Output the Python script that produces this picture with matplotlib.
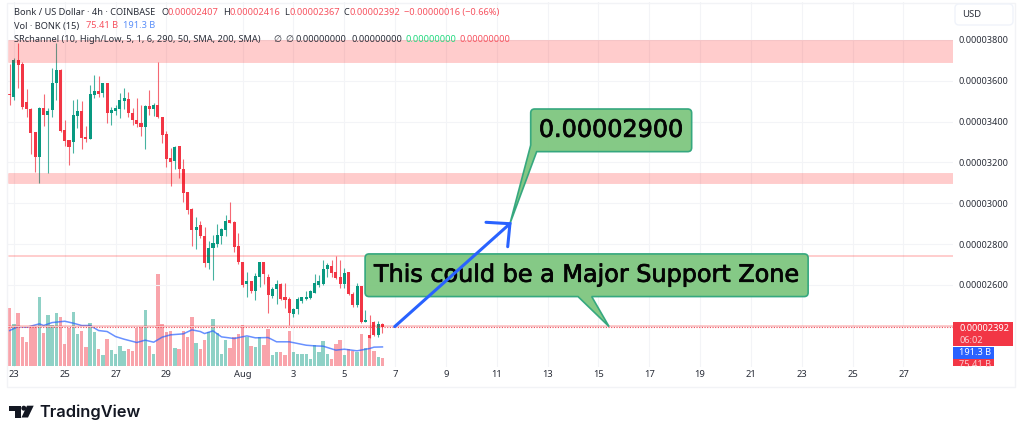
import matplotlib
matplotlib.use("Agg")
import matplotlib.pyplot as plt
import matplotlib.patheffects as pe
import numpy as np
from matplotlib.path import Path
from matplotlib.patches import PathPatch, Rectangle, FancyBboxPatch, Polygon, Circle

# ---------- data (prices in units of 1e-8 USD, volume in billions) ----------
PRICE_UNIT = 1e-8
opens = [3533,3522,3702,3682,3495,3460,3348,3225,3465,3433,
         3457,3588,3653,3359,3310,3302,3428,3452,3326,3315,
         3530,3552,3539,3588,3441,3452,3462,3503,3511,3444,
         3408,3392,3375,3477,3460,3482,3421,3339,3220,3207,
         3281,3168,3054,2972,2869,2894,2840,2709,2779,2800,
         2840,2869,2918,2910,2791,2712,2604,2619,2572,2640,
         2711,2640,2546,2578,2604,2539,2529,2457,2480,2523,
         2533,2534,2562,2600,2604,2676,2693,2662,2637,2604,
         2662,2555,2502,2595,2420,2355,2420,2355,2407]
highs = [3680,3710,3785,3690,3558,3465,3350,3470,3534,3465,
         3661,3785,3656,3408,3310,3506,3509,3501,3379,3580,
         3628,3624,3590,3591,3470,3482,3539,3563,3547,3465,
         3514,3482,3482,3555,3493,3694,3421,3356,3269,3281,
         3281,3217,3057,2975,2931,2913,2885,2817,2845,2898,
         2877,2943,3005,2913,2856,2712,2663,2619,2657,2714,
         2712,2654,2591,2624,2608,2608,2542,2485,2539,2542,
         2572,2575,2653,2649,2722,2709,2722,2742,2722,2681,
         2662,2567,2608,2595,2477,2453,2423,2423,2416]
lows = [3482,3506,3565,3460,3421,3241,3155,3098,3379,3147,
        3421,3506,3350,3281,3188,3248,3367,3266,3302,3315,
        3514,3519,3519,3395,3385,3433,3416,3460,3421,3384,
        3375,3330,3264,3433,3428,3416,3297,3176,3085,3166,
        3122,3008,2947,2791,2774,2828,2686,2680,2624,2784,
        2800,2840,2905,2763,2702,2591,2539,2559,2526,2591,
        2605,2464,2534,2507,2524,2485,2404,2444,2457,2510,
        2526,2529,2559,2591,2600,2640,2640,2627,2583,2583,
        2550,2493,2493,2412,2420,2338,2350,2346,2367]
closes = [3530,3702,3678,3473,3460,3346,3225,3465,3433,3454,
          3588,3653,3356,3307,3274,3432,3452,3322,3313,3534,
          3552,3535,3588,3441,3457,3465,3506,3514,3441,3408,
          3388,3372,3478,3460,3482,3421,3335,3217,3204,3277,
          3166,3049,2967,2869,2885,2840,2709,2779,2804,2845,
          2874,2913,2905,2784,2714,2600,2619,2572,2644,2711,
          2654,2551,2580,2604,2529,2526,2461,2480,2529,2539,
          2539,2572,2608,2621,2678,2698,2657,2632,2604,2660,
          2555,2502,2595,2420,2428,2338,2355,2407,2392]
volumes = [590,429,539,292,240,401,401,703,333,521,
           418,545,504,223,384,552,326,357,189,436,
           346,175,110,274,158,123,199,151,172,154,
           391,412,569,206,117,940,429,340,357,178,
           175,357,295,497,230,168,261,340,484,336,
           117,261,185,295,329,415,295,202,192,295,
           209,381,106,134,137,113,353,141,120,123,
           123,72,209,141,250,123,72,220,261,106,
           175,151,141,329,182,319,151,89,75.41]
ma_index = [0,2,4,7,8,10,13,15,17,19,21,23,25,27,30,32,34,36,38,41,43,45,46,48,50,53,56,58,61,63,66,70,72,74,77,79,82,85,86,88]
ma_values = [360,401,394,429,412,442,456,436,412,412,360,350,298,271,237,261,240,292,316,326,367,350,329,357,295,278,305,285,288,244,244,209,202,199,158,168,151,175,189,191.3]
date_index = [1,13,25,37,55,67,79,91,103,115,127,139,151,163,175,187,199,211]
date_labels = ["23","25","27","29","Aug","3","5","7","9","11","13","15","17","19","21","23","25","27"]
price_ticks = [2400,2600,2800,3000,3200,3400,3600,3800]
zones = [(3692,3800),(3099,3148),(2740,2745),(2397,2402)]
last_close = 2392
target_label = "0.00002900"
support_label = "This could be a Major Support Zone"

# ---------- layout ----------
W, H = 1024, 436
L_PX, R_PX, T_PX, B_PX = 8, 953, 2, 367
UP, DOWN = "#089981", "#f23645"
TXT = "#2a2e39"
FONT = "Noto Sans"
plt.rcParams["font.family"] = [FONT, "DejaVu Sans"]

fig = plt.figure(figsize=(W/100, H/100), dpi=100, facecolor="white")
rect = [L_PX/W, 1-B_PX/H, (R_PX-L_PX)/W, (B_PX-T_PX)/H]

# volume pane (bottom layer, also carries vertical grid)
ax_v = fig.add_axes(rect, zorder=1)
VOL_PER_PX = 10.3
ax_v.set_ylim(-1.5*VOL_PER_PX, (365.5-T_PX)*VOL_PER_PX)
ax_v.set_xlim(-0.4, 222.7)
idx = np.arange(len(closes))
o, h, l, c = [np.array(a)*PRICE_UNIT for a in (opens, highs, lows, closes)]
up = c >= o
ax_v.bar(idx, volumes, width=0.8, color=[UP if u else DOWN for u in up], alpha=0.45, linewidth=0, zorder=2)
ax_v.plot(ma_index, ma_values, color="#2962ff", lw=1.1, alpha=0.7, zorder=3)
ax_v.set_xticks(date_index)
ax_v.tick_params(length=0, labelleft=False, labelbottom=False)
ax_v.grid(axis="x", color="#f3f4f7", lw=0.8, zorder=0)
ax_v.set_axisbelow(True)
ax_v.set_yticks([])
for s in ax_v.spines.values():
    s.set_visible(False)

# price pane
ax = fig.add_axes(rect, zorder=2)
ax.patch.set_alpha(0)
ax.set_xlim(-0.4, 222.7)
ax.set_ylim(2198*PRICE_UNIT, (3800+38*4.898)*PRICE_UNIT)
ax.vlines(idx, l, h, colors=[UP if u else DOWN for u in up], lw=0.8, alpha=0.75, zorder=3)
ax.bar(idx, np.maximum(np.abs(c-o), 0.6*4.9*PRICE_UNIT), bottom=np.minimum(o, c), width=0.72,
       color=[UP if u else DOWN for u in up], linewidth=0, zorder=4)
for lo, hi in zones:
    ax.axhspan(lo*PRICE_UNIT, hi*PRICE_UNIT, facecolor=(1, 0, 0, 0.2), edgecolor=(1, 0, 0, 0.1), lw=0.7, zorder=5)
ax.axhline(last_close*PRICE_UNIT, color=DOWN, lw=0.8, ls=(0, (1, 1.4)), alpha=0.9, zorder=6)
ax.yaxis.tick_right()
ax.set_yticks([p*PRICE_UNIT for p in price_ticks])
ax.set_yticklabels(["" if p == 2400 else f"{p*PRICE_UNIT:.8f}" for p in price_ticks], fontsize=6.6, color=TXT)
ax.set_xticks(date_index)
ax.set_xticklabels(date_labels, fontsize=6.8, color=TXT)
for t, s in zip(ax.get_xticklabels(), date_labels):
    if s == "Aug":
        t.set_fontweight("bold")
ax.tick_params(axis="y", length=0, pad=4.2)
ax.tick_params(axis="x", length=0, pad=2.5)
ax.grid(axis="y", color="#f3f4f7", lw=0.8, zorder=0)
ax.set_axisbelow(True)
for s in ax.spines.values():
    s.set_visible(False)

# overlay in pixel coordinates for the chrome
ov = fig.add_axes([0, 0, 1, 1], zorder=5)
ov.set_xlim(0, W); ov.set_ylim(H, 0); ov.axis("off"); ov.patch.set_alpha(0)
fig.canvas.draw()
def to_px(i, price):
    xd, yd = ax.transData.transform((i, price*PRICE_UNIT))
    return ov.transData.inverted().transform((xd, yd))

def rounded_path(points, r=4):
    """points: (x, y, rounded?) in clockwise order."""
    n = len(points); verts = []; codes = []
    for k, (x, y, rd) in enumerate(points):
        if rd:
            px_, py_, _ = points[k-1]; nx_, ny_, _ = points[(k+1) % n]
            d1 = np.array([px_-x, py_-y]); d1 = d1/np.hypot(*d1)
            d2 = np.array([nx_-x, ny_-y]); d2 = d2/np.hypot(*d2)
            a = np.array([x, y])+d1*r; b = np.array([x, y])+d2*r
            verts += [tuple(a), (x, y), tuple(b)]
            codes += [Path.LINETO, Path.CURVE3, Path.CURVE3]
        else:
            verts.append((x, y)); codes.append(Path.LINETO)
    codes[0] = Path.MOVETO
    verts.append(verts[0]); codes.append(Path.CLOSEPOLY)
    return Path(verts, codes)

GFILL, GEDGE = "#7fc680", "#2fa57c"
BOLDISH = [pe.withStroke(linewidth=0.55, foreground="#050505")]
# target callout
x0, y0 = to_px(123, 3462); x1, y1 = to_px(161, 3253)
tx, ty = to_px(118.1, 2900)
p = rounded_path([(x0, y0, True), (x1, y0, True), (x1, y1, True), (x0+6, y1, False), (tx, ty, False), (x0, y1-6.5, False)], 4)
ov.add_patch(PathPatch(p, facecolor=GFILL, edgecolor=GEDGE, lw=1.2, alpha=0.95, zorder=2))
ov.text((x0+x1)/2, (y0+y1)/2-0.5, target_label, family="DejaVu Sans", fontsize=17.2, color="#050505", ha="center", va="center", zorder=3, path_effects=BOLDISH)
# support callout
x0, y0 = to_px(83.9, 2752); x1, y1 = to_px(188.5, 2543)
tx2, ty2 = to_px(141.5, 2396)
p = rounded_path([(x0, y0, True), (x1, y0, True), (x1, y1, True), (591.7, y1, False), (tx2, ty2, False), (578, y1, False), (x0, y1, True)], 4)
ov.add_patch(PathPatch(p, facecolor=GFILL, edgecolor=GEDGE, lw=1.2, alpha=0.95, zorder=2))
ov.text((x0+x1)/2, (y0+y1)/2-0.5, support_label, family="DejaVu Sans", fontsize=17.2, color="#050505", ha="center", va="center", zorder=3, path_effects=BOLDISH)
# blue arrow
ax0, ay0 = to_px(90.9, 2396)
ov.plot([ax0, tx], [ay0, ty], color="#2962ff", lw=2.2, solid_capstyle="round", zorder=4)
ov.plot([486, tx, 507.7], [222.3, ty, 246.7], color="#2962ff", lw=2.2, solid_capstyle="round", solid_joinstyle="miter", zorder=4)

# frame
ov.add_patch(Rectangle((7, 3), 1008, 384, fill=False, edgecolor="#f2f3f6", lw=1, zorder=0))
ov.add_patch(FancyBboxPatch((957, 6), 54, 17, boxstyle="round,pad=2,rounding_size=4", facecolor="white", edgecolor="#f0f3fa", lw=1))
ov.text(962, 14.5, "USD", fontsize=6.8, color=TXT, va="center")

# price labels
ov.add_patch(Rectangle((953, 322), 60, 24, facecolor=DOWN, lw=0))
ov.text(959, 328.5, f"{last_close*PRICE_UNIT:.8f}", fontsize=6.6, color="white", va="center")
ov.text(959, 340, "06:02", fontsize=6.6, color="#fbd0d4", va="center")
ov.add_patch(Rectangle((953, 347), 41, 11.5, facecolor="#2962ff", lw=0))
ov.text(959, 352.5, "191.3 B", fontsize=6.6, color="white", va="center")
clipbox = Rectangle((953, 359), 41, 6.5, facecolor=DOWN, lw=0)
ov.add_patch(clipbox)
t = ov.text(959, 364.5, "75.41 B", fontsize=6.6, color="#fbd0d4", va="center")
t.set_clip_path(clipbox)

# header text
def hdr(x, y, s, color=TXT):
    ov.text(x, y, s, fontsize=6.65, color=color, va="center", zorder=6)
RED2, BLUE2, GRN2 = "#f7525f", "#5b8ff9", "#22d97f"
hdr(14, 12.5, "Bonk / US Dollar · 4h · COINBASE")
for xl, lab, xv, val in [(162, "O", 168, "0.00002407"), (223, "H", 229, "0.00002416"), (284, "L", 289, "0.00002367"), (344, "C", 350, "0.00002392")]:
    hdr(xl, 12.5, lab); hdr(xv, 12.5, val, RED2)
hdr(404, 12.5, "−0.00000016 (−0.66%)", RED2)
hdr(14, 26, "Vol · BONK (15)")
hdr(86, 26, "75.41 B", RED2)
hdr(123, 26, "191.3 B", BLUE2)
hdr(14, 39.5, "SRchannel (10, High/Low, 5, 1, 6, 290, 50, SMA, 200, SMA)")
hdr(273, 39.5, "∅"); hdr(285, 39.5, "∅")
hdr(296, 39.5, "0.00000000"); hdr(351, 39.5, "0.00000000")
hdr(405, 39.5, "0.00000000", GRN2); hdr(460, 39.5, "0.00000000", RED2)

# logo
K = "#131722"
ov.add_patch(Polygon([(9, 405.7), (21, 405.7), (21, 417.5), (15, 417.5), (15, 411), (9, 411)], facecolor=K, lw=0))
ov.add_patch(Circle((23.8, 408.2), 2.5, facecolor=K, lw=0))
ov.add_patch(Polygon([(27, 405.7), (33.7, 405.7), (28, 417.5), (21.5, 417.5)], facecolor=K, lw=0))
ov.text(39.5, 412, "TradingView", family="Inter", fontsize=11.8, fontweight="semibold", color=K, va="center")

fig.savefig("out.png", dpi=100)
